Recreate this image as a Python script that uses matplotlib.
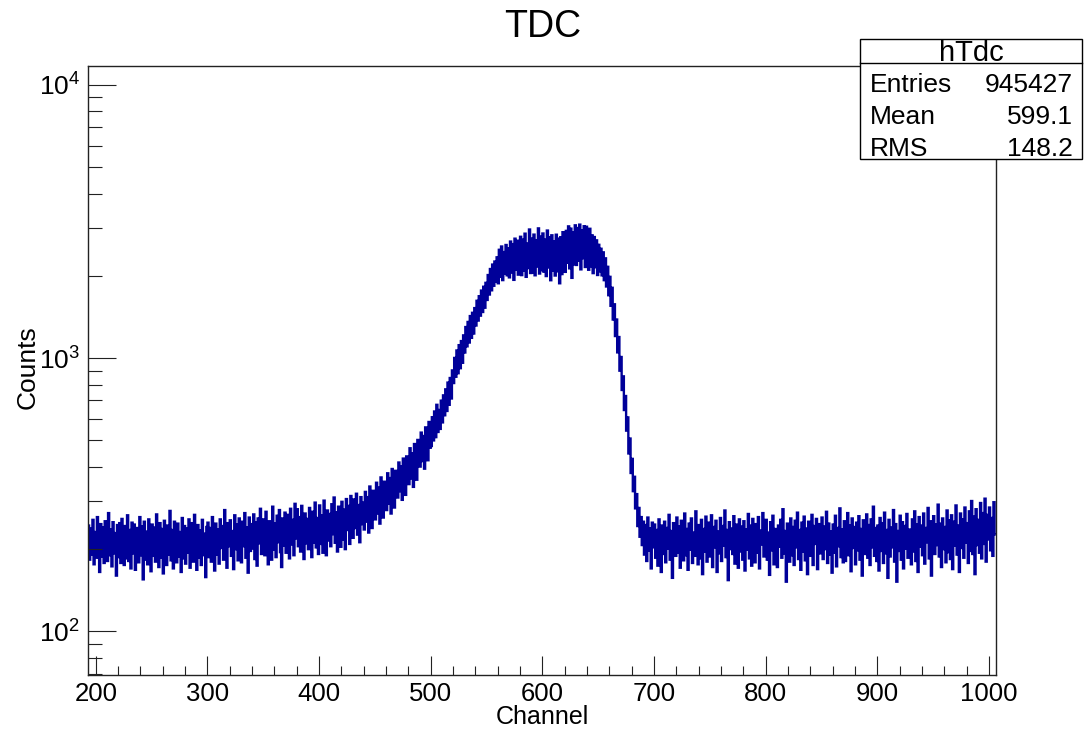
import matplotlib
matplotlib.use("Agg")
import matplotlib.pyplot as plt
import numpy as np
from matplotlib.patches import Rectangle
from matplotlib.lines import Line2D
from matplotlib.ticker import MultipleLocator, LogLocator, NullFormatter

# ---------------- data (counts per channel) ----------------
first_channel = 193

# channels 193-299
left_baseline = [
    244, 183, 238, 191, 256, 176, 231, 186, 262, 195,
    165, 247, 188, 240, 178, 253, 200, 181, 271, 190,
    236, 173, 251, 193, 229, 160, 245, 187, 249, 178,
    258, 198, 175, 243, 185, 266, 181, 235, 170, 250,
    193, 246, 168, 239, 205, 179, 262, 190, 242, 155,
    252, 183, 232, 176, 257, 197, 166, 246, 189, 240,
    180, 268, 195, 172, 249, 186, 237, 163, 254, 201,
    175, 244, 191, 276, 182, 235, 170, 252, 198, 179,
    248, 188, 231, 165, 260, 185, 243, 177, 238, 194,
    257, 171, 226, 249, 180, 267, 192, 168, 245, 186,
    234, 175, 256, 190, 228, 158, 241,
]

# channels 300-379
shoulder = [
    250, 187, 239, 180, 262, 198, 167, 248, 191, 236,
    177, 257, 202, 243, 183, 278, 195, 171, 249, 205,
    255, 189, 233, 169, 266, 200, 246, 182, 259, 194,
    179, 252, 205, 271, 186, 240, 164, 261, 197, 247,
    201, 268, 184, 250, 174, 259, 210, 281, 192, 243,
    257, 190, 274, 203, 176, 253, 216, 183, 286, 199,
    248, 187, 265, 212, 278, 195, 172, 259, 206, 272,
    194, 267, 217, 185, 281, 208, 256, 190, 293, 219,
]

# channels 380-559
rise = [
    280, 205, 262, 196, 288, 217, 184, 270, 210, 258,
    200, 283, 222, 187, 274, 211, 296, 203, 260, 192,
    289, 209, 266, 194, 301, 223, 190, 277, 215, 269,
    205, 292, 227, 309, 211, 273, 196, 286, 232, 204,
    298, 217, 279, 200, 305, 235, 288, 209, 313, 228,
    220, 304, 239, 319, 226, 290, 212, 310, 247, 296,
    236, 324, 252, 310, 230, 339, 261, 239, 327, 273,
    257, 350, 270, 336, 248, 366, 283, 261, 353, 295,
    278, 379, 293, 364, 270, 393, 306, 284, 387, 324,
    309, 415, 326, 402, 303, 429, 338, 316, 437, 358,
    346, 468, 363, 449, 338, 485, 383, 359, 502, 404,
    401, 534, 420, 519, 394, 558, 444, 423, 584, 470,
    477, 608, 500, 638, 514, 675, 537, 646, 551, 699,
    582, 731, 618, 769, 641, 814, 675, 846, 712, 902,
    811, 1002, 855, 1067, 881, 1116, 919, 1155, 962, 1212,
    1049, 1300, 1105, 1357, 1141, 1426, 1187, 1466, 1231, 1525,
    1317, 1622, 1373, 1686, 1431, 1768, 1476, 1826, 1530, 1887,
    1634, 2015, 1710, 2120, 1772, 2201, 1841, 2258, 1909, 2340,
]

# channels 560-649
plateau = [
    1880, 2493, 1985, 2563, 1931, 2445, 2039, 2596, 2011, 2524,
    1976, 2672, 2058, 2615, 1935, 2738, 2111, 2691, 2022, 2659,
    2782, 2014, 2715, 2092, 2856, 1985, 2629, 2137, 2958, 2050,
    2740, 2056, 2833, 2011, 2704, 2165, 2986, 2041, 2788, 2100,
    2860, 2072, 2716, 1998, 2932, 2147, 2773, 1929, 2817, 2096,
    2675, 2007, 2831, 2079, 2739, 1880, 2772, 2032, 2892, 2145,
    2070, 2924, 2234, 3037, 2132, 2979, 1968, 2886, 2206, 3064,
    2194, 2995, 2275, 3082, 2114, 2940, 2324, 3041, 2157, 3028,
    2854, 2107, 2976, 2169, 2817, 2048, 2776, 2152, 2700, 2016,
]

# channels 650-699
fall = [
    2600, 2080, 2515, 2010, 2440, 1930, 2320, 1830, 2160, 1700,
    1985, 1555, 1810, 1385, 1575, 1205, 1385, 1050, 1195, 900,
    1010, 765, 858, 646, 727, 543, 607, 448, 508, 380,
    428, 326, 368, 282, 318, 243, 283, 222, 262, 207,
    252, 191, 245, 181, 261, 198, 238, 170, 250, 203,
]

# channels 700-1005
right_baseline = [
    246, 186, 235, 174, 257, 197, 165, 244, 192, 252,
    179, 239, 201, 267, 183, 233, 157, 249, 204, 189,
    261, 194, 242, 171, 254, 207, 182, 270, 190, 237,
    168, 248, 199, 259, 178, 230, 189, 275, 202, 176,
    245, 185, 256, 162, 237, 196, 263, 180, 226, 250,
    188, 266, 172, 241, 203, 254, 165, 232, 193, 260,
    181, 243, 206, 277, 187, 235, 154, 251, 200, 238,
    192, 264, 177, 246, 214, 171, 257, 196, 242, 183,
    253, 167, 236, 199, 269, 185, 244, 174, 258, 205,
    179, 247, 194, 262, 170, 234, 208, 271, 188, 239,
    256, 183, 230, 161, 251, 198, 265, 176, 237, 201,
    172, 244, 204, 256, 186, 280, 193, 233, 152, 248,
    222, 180, 259, 190, 241, 175, 254, 203, 272, 184,
    235, 168, 250, 196, 263, 182, 238, 162, 252, 201,
    189, 267, 175, 243, 209, 258, 169, 247, 193, 234,
    261, 184, 242, 200, 274, 178, 248, 191, 232, 164,
    246, 194, 265, 173, 239, 205, 282, 187, 236, 179,
    253, 181, 228, 271, 190, 244, 166, 259, 202, 241,
    176, 250, 198, 264, 183, 237, 160, 255, 208, 192,
    268, 186, 245, 175, 257, 203, 286, 189, 239, 181,
    244, 167, 260, 197, 249, 178, 272, 193, 235, 157,
    256, 188, 240, 203, 278, 180, 247, 152, 233, 197,
    265, 183, 251, 170, 243, 201, 269, 186, 236, 207,
    176, 257, 196, 275, 181, 246, 165, 262, 204, 244,
    190, 270, 177, 239, 212, 283, 185, 253, 160, 237,
    264, 192, 246, 207, 291, 188, 248, 172, 259, 200,
    241, 179, 277, 195, 255, 184, 266, 169, 252, 206,
    289, 191, 244, 165, 270, 202, 257, 186, 284, 211,
    249, 178, 275, 197, 300, 192, 263, 162, 280, 207,
    256, 194, 295, 185, 271, 209, 306, 180, 267, 217,
    284, 198, 260, 189, 297, 226,
]

x_major_ticks = [200, 300, 400, 500, 600, 700, 800, 900, 1000]
y_major_ticks = [100, 1000, 10000]
y_tick_labels = [r"$10^{2}$", r"$10^{3}$", r"$10^{4}$"]

title = "TDC"
x_title = "Channel"
y_title = "Counts"
stats_name = "hTdc"
stats_rows = [("Entries", "945427"), ("Mean", "599.1"), ("RMS", "148.2")]

# ---------------- style ----------------
plt.rcParams["font.family"] = ["Liberation Sans", "DejaVu Sans"]
plt.rcParams["mathtext.fontset"] = "custom"
plt.rcParams["mathtext.rm"] = "Liberation Sans"
plt.rcParams["mathtext.it"] = "Liberation Sans:italic"
plt.rcParams["mathtext.bf"] = "Liberation Sans:bold"

W, H = 1090, 730
fig = plt.figure(figsize=(W / 100, H / 100), dpi=100)

def fx(px):
    return px / W

def fy(py):
    return 1 - py / H

ax_l, ax_r, ax_t, ax_b = 88.4, 996.0, 65.7, 675.4
ax = fig.add_axes([fx(ax_l), fy(ax_b), fx(ax_r - ax_l), (ax_b - ax_t) / H])

counts = np.array(left_baseline + shoulder + rise + plateau + fall + right_baseline)
edges = np.arange(first_channel, first_channel + len(counts) + 1)

ax.stairs(counts, edges, baseline=None, color="#000099", lw=1.7)

ax.set_yscale("log")
ax.set_xlim(193.4, 1006.3)
ax.set_ylim(69, 11765)

ax.set_xticks(x_major_ticks)
ax.set_xticklabels([str(v) for v in x_major_ticks])
ax.xaxis.set_minor_locator(MultipleLocator(20))
ax.set_yticks(y_major_ticks)
ax.set_yticklabels(y_tick_labels)
ax.yaxis.set_minor_locator(LogLocator(base=10, subs=np.arange(2, 10)))
ax.yaxis.set_minor_formatter(NullFormatter())

ax.tick_params(which="both", direction="in", top=False, right=False, color="#222222")
ax.tick_params(axis="x", which="major", length=13.7, width=0.8, labelsize=18.5, pad=4.6)
ax.tick_params(axis="x", which="minor", length=6.8, width=0.8)
ax.tick_params(axis="y", which="major", length=20, width=0.8, labelsize=19, pad=6)
ax.tick_params(axis="y", which="minor", length=10, width=0.8)
for s in ax.spines.values():
    s.set_linewidth(1.0)
    s.set_color("#222222")

ax.set_title(title, fontsize=27, y=(ax_b - 36.7) / (ax_b - ax_t), pad=0, va="baseline")

ax.set_xlabel(x_title, fontsize=18)
ax.xaxis.label.set_va("baseline")
ax.xaxis.set_label_coords(0.5, (ax_b - 724.3) / (ax_b - ax_t))

ax.set_ylabel(y_title, fontsize=19, va="center", ha="center")
ax.yaxis.set_label_coords((27.5 - ax_l) / (ax_r - ax_l), (ax_b - 367) / (ax_b - ax_t))

# ---------------- statistics box ----------------
bx0, bx1, by0, by1, bsep = 860, 1082, 39.3, 159.3, 63.3
box = Rectangle((fx(bx0), fy(by1)), fx(bx1 - bx0), (by1 - by0) / H,
                transform=fig.transFigure, facecolor="white", edgecolor="black",
                lw=1.0, zorder=10)
fig.add_artist(box)
fig.add_artist(Line2D([fx(bx0), fx(bx1)], [fy(bsep), fy(bsep)],
                      transform=fig.transFigure, color="black", lw=1.0, zorder=11))
fig.text(fx((bx0 + bx1) / 2), fy(61.0), stats_name, ha="center", va="baseline",
         fontsize=21, zorder=12)
row_baselines = [92.3, 124.5, 156.0]
for (lab, val), yb in zip(stats_rows, row_baselines):
    fig.text(fx(870), fy(yb), lab, ha="left", va="baseline", fontsize=19, zorder=12)
    fig.text(fx(1073), fy(yb), val, ha="right", va="baseline", fontsize=19, zorder=12)

fig.savefig("out.png", dpi=100)
